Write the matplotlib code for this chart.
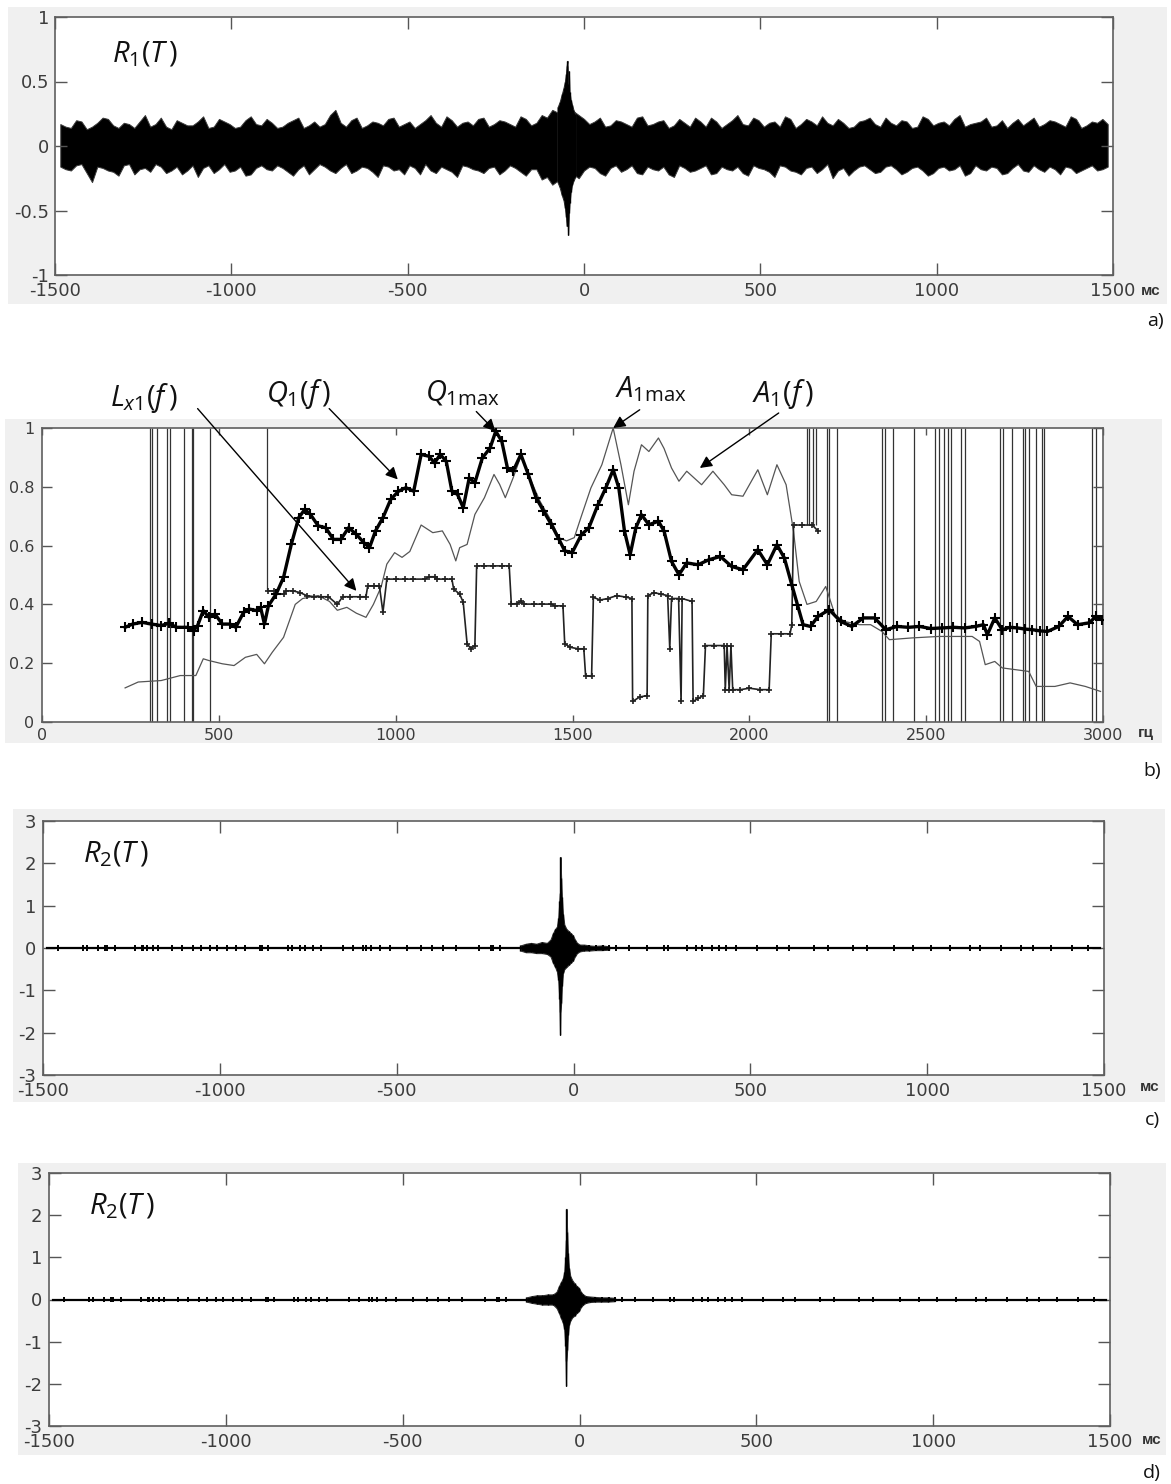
import matplotlib.pyplot as plt
import numpy as np
from matplotlib.patches import Rectangle

plt.rcParams["font.family"] = ["DejaVu Sans"]
plt.rcParams["axes.unicode_minus"] = False
plt.rcParams["mathtext.fontset"] = "custom"
plt.rcParams["mathtext.it"] = "Open Sans:italic"
plt.rcParams["mathtext.rm"] = "Open Sans"

W, H = 1171, 1484

# ---------------- panel a: R1(T), envelope of the noisy trace (hundredths) ----------------
r1_t = np.arange(-1485, 1486, 30)
r1_hi = [17, 14, 19, 15, 22, 16, 18, 14, 24, 17, 15, 20, 16, 19, 14, 21, 17, 15, 23, 16,
         18, 15, 20, 14, 19, 17, 28, 15, 22, 16, 18, 21, 15, 19, 17, 24, 15, 20, 18, 16,
         22, 17, 19, 15, 21, 18, 22, 26, 30, 24, 17, 22, 16, 19, 15, 23, 17, 20, 16, 18,
         22, 15, 19, 17, 24, 16, 20, 18, 15, 21, 17, 19, 23, 16, 18, 15, 20, 17, 22, 16,
         19, 15, 21, 18, 16, 24, 17, 19, 15, 20, 18, 16, 22, 17, 19, 15, 21, 16, 18, 17]
r1_lo = [-16, -19, -14, -28, -17, -20, -15, -22, -17, -14, -21, -16, -19, -24, -15, -18, -20, -16, -22, -15,
         -19, -17, -23, -15, -18, -16, -21, -14, -19, -17, -24, -16, -18, -15, -22, -19, -16, -20, -15, -18,
         -21, -16, -19, -17, -23, -18, -24, -27, -32, -25, -16, -21, -17, -20, -15, -22, -18, -16, -24, -17,
         -19, -15, -21, -18, -16, -23, -17, -20, -15, -19, -22, -16, -18, -25, -17, -19, -15, -21, -16, -18,
         -20, -16, -23, -17, -19, -15, -21, -18, -16, -22, -17, -19, -15, -20, -18, -16, -21, -17, -19, -16]
# values halfway between the samples above
r1_mid_hi = [15, 20, 13, 18, 21, 14, 17, 19, 15, 22, 13, 18, 16, 23, 15, 19, 14, 20, 17, 21,
             14, 18, 22, 16, 15, 24, 18, 20, 14, 19, 16, 22, 17, 14, 20, 18, 23, 15, 19, 21,
             15, 20, 17, 23, 16, 24, 28, 32, 27, 21, 19, 15, 20, 17, 22, 16, 19, 14, 21, 15,
             19, 22, 14, 20, 17, 22, 15, 19, 23, 14, 21, 16, 18, 21, 14, 19, 22, 15, 18, 20,
             14, 23, 16, 19, 21, 15, 18, 22, 16, 14, 21, 19, 15, 20, 17, 23, 14, 19, 21]
r1_mid_lo = [-18, -15, -21, -16, -19, -23, -14, -18, -20, -16, -19, -22, -15, -17, -21, -14, -19, -23, -17, -18,
             -15, -20, -18, -22, -14, -19, -17, -21, -16, -20, -15, -19, -22, -17, -14, -21, -18, -24, -16, -19,
             -17, -22, -15, -20, -18, -26, -30, -28, -22, -19, -17, -23, -15, -18, -21, -16, -19, -22, -15, -20,
             -17, -22, -16, -19, -21, -15, -18, -24, -16, -20, -17, -21, -14, -19, -23, -16, -18, -20, -15, -22,
             -17, -19, -21, -16, -18, -23, -15, -19, -17, -21, -14, -20, -18, -16, -22, -17, -19, -15, -18]
r1_burst_t = [-75, -69, -63, -58, -54, -51, -49, -47, -45, -43, -41, -38, -34, -30, -25]
r1_burst_hi = [0.3, 0.34, 0.4, 0.45, 0.5, 0.56, 0.62, 0.66, 0.48, 0.58, 0.42, 0.36, 0.32, 0.28, 0.25]
r1_burst_lo = [-0.28, -0.32, -0.38, -0.42, -0.48, -0.55, -0.62, -0.5, -0.69, -0.52, -0.44, -0.36, -0.3, -0.27, -0.24]

# ---------------- panel b: spectral curves ----------------
a1_f = [235, 272, 337, 391, 435, 456, 472, 510, 543, 575, 607, 629, 651, 683, 716, 737, 781, 813, 835, 862,
        889, 916, 937, 959, 975, 997, 1018, 1040, 1072, 1105, 1132, 1154, 1170, 1181, 1202, 1224, 1251, 1278,
        1294, 1310, 1332, 1354, 1375, 1408, 1440, 1462, 1483, 1505, 1525, 1552, 1583, 1615, 1637, 1658, 1674,
        1695, 1716, 1743, 1759, 1780, 1801, 1823, 1844, 1865, 1897, 1929, 1950, 1982, 2024, 2051, 2078, 2104,
        2125, 2141, 2163, 2189, 2216, 2242, 2269, 2311, 2343, 2375, 2396, 2460, 2535, 2630, 2651, 2667, 2694,
        2715, 2790, 2811, 2864, 2907, 2950, 2993]
a1_v = [0.116, 0.136, 0.141, 0.158, 0.158, 0.215, 0.209, 0.198, 0.192, 0.22, 0.23, 0.198, 0.237, 0.288, 0.40,
        0.42, 0.43, 0.41, 0.38, 0.39, 0.37, 0.356, 0.40, 0.46, 0.537, 0.576, 0.56, 0.58, 0.67, 0.644, 0.65, 0.604,
        0.548, 0.593, 0.604, 0.706, 0.763, 0.842, 0.808, 0.763, 0.83, 0.904, 0.842, 0.751, 0.684, 0.627, 0.616,
        0.627, 0.70, 0.796, 0.875, 1.0, 0.875, 0.739, 0.853, 0.943, 0.92, 0.966, 0.93, 0.864, 0.819, 0.853, 0.83,
        0.807, 0.853, 0.807, 0.773, 0.768, 0.858, 0.773, 0.875, 0.807, 0.648, 0.478, 0.40, 0.41, 0.461, 0.365,
        0.342, 0.331, 0.331, 0.308, 0.28, 0.286, 0.291, 0.291, 0.274, 0.195, 0.206, 0.184, 0.172, 0.121, 0.121,
        0.133, 0.121, 0.104]

q1_f = [235, 256, 283, 310, 337, 359, 380, 413, 429, 440, 456, 472, 489, 510, 532, 548, 570, 586, 608, 618,
        629, 640, 662, 683, 705, 726, 743, 759, 781, 802, 824, 845, 867, 889, 910, 926, 943, 964, 986, 1008,
        1029, 1051, 1072, 1094, 1110, 1126, 1143, 1159, 1175, 1191, 1208, 1224, 1245, 1267, 1283, 1300, 1316,
        1332, 1354, 1375, 1397, 1418, 1440, 1462, 1478, 1499, 1525, 1546, 1572, 1594, 1615, 1631, 1647, 1663,
        1679, 1695, 1716, 1743, 1759, 1780, 1801, 1823, 1855, 1886, 1918, 1950, 1982, 2024, 2051, 2078, 2099,
        2120, 2136, 2152, 2173, 2194, 2226, 2258, 2290, 2322, 2354, 2386, 2418, 2450, 2481, 2513, 2545, 2577,
        2609, 2640, 2662, 2673, 2694, 2715, 2737, 2758, 2780, 2800, 2822, 2843, 2875, 2901, 2928, 2960, 2981, 2997]
q1_v = [0.322, 0.333, 0.339, 0.333, 0.328, 0.336, 0.322, 0.322, 0.311, 0.328, 0.379, 0.356, 0.367, 0.333, 0.333,
        0.322, 0.373, 0.384, 0.379, 0.39, 0.333, 0.395, 0.435, 0.492, 0.605, 0.695, 0.723, 0.706, 0.667, 0.661,
        0.621, 0.621, 0.661, 0.638, 0.61, 0.593, 0.65, 0.695, 0.757, 0.785, 0.797, 0.785, 0.91, 0.904, 0.881,
        0.91, 0.887, 0.785, 0.774, 0.729, 0.83, 0.814, 0.898, 0.932, 0.989, 0.955, 0.864, 0.853, 0.91, 0.842,
        0.763, 0.718, 0.672, 0.621, 0.582, 0.576, 0.637, 0.66, 0.739, 0.796, 0.858, 0.796, 0.649, 0.569, 0.66,
        0.705, 0.671, 0.683, 0.649, 0.546, 0.501, 0.541, 0.535, 0.552, 0.563, 0.529, 0.518, 0.586, 0.535, 0.603,
        0.558, 0.467, 0.399, 0.331, 0.325, 0.359, 0.382, 0.342, 0.325, 0.354, 0.354, 0.314, 0.325, 0.322, 0.325,
        0.318, 0.32, 0.322, 0.32, 0.325, 0.331, 0.297, 0.354, 0.314, 0.322, 0.32, 0.316, 0.314, 0.31, 0.308,
        0.325, 0.359, 0.331, 0.337, 0.359, 0.348]

lx1_f = [640, 656, 662, 683, 689, 710, 730, 748, 770, 790, 810, 835, 850, 870, 900, 916, 921, 940, 954, 964,
         975, 1000, 1025, 1050, 1083, 1094, 1110, 1116, 1140, 1159, 1164, 1181, 1191, 1202, 1213, 1224, 1229,
         1250, 1275, 1300, 1321, 1327, 1343, 1354, 1364, 1390, 1415, 1440, 1451, 1473, 1478, 1494, 1516, 1532,
         1537, 1554, 1559, 1578, 1600, 1625, 1650, 1668, 1670, 1690, 1711, 1713, 1730, 1750, 1769, 1775, 1780,
         1800, 1807, 1810, 1838, 1841, 1855, 1870, 1876, 1900, 1929, 1932, 1937, 1943, 1948, 1953, 1975, 2000,
         2030, 2056, 2062, 2090, 2115, 2120, 2125, 2150, 2178, 2194]
lx1_v = [0.446, 0.446, 0.435, 0.435, 0.446, 0.446, 0.44, 0.43, 0.426, 0.426, 0.426, 0.40, 0.426, 0.426, 0.426,
         0.426, 0.463, 0.463, 0.463, 0.373, 0.486, 0.486, 0.486, 0.486, 0.486, 0.494, 0.494, 0.486, 0.486, 0.486,
         0.452, 0.435, 0.407, 0.266, 0.249, 0.26, 0.531, 0.531, 0.531, 0.531, 0.531, 0.401, 0.403, 0.41, 0.401,
         0.401, 0.401, 0.401, 0.395, 0.395, 0.266, 0.254, 0.249, 0.249, 0.158, 0.155, 0.424, 0.415, 0.42, 0.43,
         0.425, 0.42, 0.07, 0.085, 0.09, 0.43, 0.44, 0.435, 0.43, 0.25, 0.42, 0.42, 0.07, 0.42, 0.41, 0.07, 0.08,
         0.09, 0.26, 0.26, 0.26, 0.11, 0.26, 0.11, 0.26, 0.11, 0.11, 0.115, 0.11, 0.11, 0.30, 0.30, 0.30, 0.33,
         0.67, 0.67, 0.67, 0.65]

# frequencies where Lx1 leaves the scale (drawn as vertical strokes up to 1)
jump_f = [305, 310, 326, 354, 362, 402, 424, 427, 475, 635, 2163, 2170, 2179, 2189, 2221, 2226, 2248, 2375,
          2384, 2407, 2465, 2524, 2535, 2550, 2561, 2570, 2598, 2609, 2710, 2717, 2742, 2774, 2779, 2790, 2811,
          2827, 2832, 2970, 2979]
jump_lo = [0] * 9 + [0.446] + [0.67] * 4 + [0] * 25

# ---------------- panels c, d: R2(T) ----------------
r2_span = [-1490, 1490]
r2c_t = [-150, -135, -120, -105, -90, -75, -65, -58, -52, -47, -43, -40, -38, -37, -35, -33, -30, -26, -20,
         -14, -8, -2, 4, 10, 18, 30, 45, 60, 80, 100]
r2c_hi = [0.06, 0.1, 0.12, 0.1, 0.14, 0.12, 0.2, 0.35, 0.45, 0.5, 0.7, 1.1, 1.3, 2.15, 1.65, 1.2, 0.8, 0.55,
          0.45, 0.4, 0.35, 0.3, 0.2, 0.12, 0.08, 0.08, 0.06, 0.05, 0.06, 0.04]
r2c_lo = [-0.06, -0.1, -0.1, -0.12, -0.12, -0.14, -0.2, -0.35, -0.45, -0.55, -0.75, -1.2, -2.05, -1.5, -1.3,
          -0.9, -0.6, -0.5, -0.45, -0.4, -0.35, -0.3, -0.2, -0.12, -0.08, -0.06, -0.06, -0.05, -0.05, -0.04]
r2d_t = [-150, -135, -120, -105, -90, -75, -65, -58, -52, -47, -43, -40, -38, -37, -35, -33, -30, -26, -20,
         -14, -8, -2, 4, 10, 18, 30, 45, 60, 80, 100]
r2d_hi = [0.05, 0.08, 0.1, 0.1, 0.12, 0.12, 0.18, 0.32, 0.42, 0.5, 0.65, 1.0, 1.4, 2.15, 1.6, 1.1, 0.75, 0.55,
          0.45, 0.38, 0.32, 0.28, 0.18, 0.12, 0.08, 0.07, 0.06, 0.05, 0.05, 0.04]
r2d_lo = [-0.05, -0.08, -0.1, -0.12, -0.12, -0.12, -0.2, -0.32, -0.45, -0.55, -0.7, -1.1, -2.05, -1.45, -1.2,
          -0.85, -0.6, -0.5, -0.42, -0.38, -0.32, -0.28, -0.18, -0.12, -0.08, -0.06, -0.05, -0.05, -0.05, -0.04]
r2_blip_t = [-1457, -1386, -1377, -1344, -1325, -1320, -1296, -1240, -1221, -1216, -1207, -1188, -1174, -1136,
             -1108, -1075, -1052, -1028, -1009, -981, -953, -929, -887, -882, -863, -807, -797, -774, -760, -736,
             -713, -652, -624, -595, -586, -572, -548, -520, -470, -430, -400, -370, -331, -266, -233, -229, -209,
             45, 64, 82, 101, 120, 158, 209, 257, 266, 322, 347, 364, 393, 412, 432, 460, 520, 575, 610, 680,
             720, 790, 830, 905, 960, 1010, 1065, 1120, 1150, 1210, 1265, 1300, 1350, 1410, 1455]
r2_blip_amp = 0.07

fig = plt.figure(figsize=(W / 100, H / 100), dpi=100)


def rect(l, t, r, b):
    return [l / W, 1 - b / H, (r - l) / W, (b - t) / H]


def backdrop(l, t, r, b):
    x, y, w, h = rect(l, t, r, b)
    fig.patches.append(Rectangle((x, y), w, h, transform=fig.transFigure,
                                 facecolor="#f0f0f0", edgecolor="none", zorder=-10))


def matlab_axes(box, fs, xpad, ypad, xlen, ylen):
    ax = fig.add_axes(rect(*box))
    ax.tick_params(direction="in", top=True, right=True, labelsize=fs,
                   labelcolor="#3c3c3c", color="#555555", width=1.0)
    ax.tick_params(axis="x", pad=xpad, length=xlen)
    ax.tick_params(axis="y", pad=ypad, length=ylen)
    for s in ax.spines.values():
        s.set_color("#5f5f5f")
        s.set_linewidth(1.2)
    return ax


def label(x, y, s, **kw):
    fig.text(x / W, 1 - y / H, s, ha="center", va="center", **kw)


def unit(x, y, s):
    label(x, y, s, fontsize=11, fontweight="bold", color="#333333", family="Liberation Sans")


def tag(x, y, s):
    label(x, y, s, fontsize=14, family="Open Sans", color="#111111")


time_ticks = [-1500, -1000, -500, 0, 500, 1000, 1500]
time_labels = ["-1500", "-1000", "-500", "0", "500", "1000", "1500"]

# ---- a ----
backdrop(8, 7, 1167, 304)
ax = matlab_axes((55, 17, 1113, 275), 13, 5.0, 4.0, 8.5, 8.5)
band_t = np.empty(2 * len(r1_t) - 1)
band_t[0::2] = r1_t
band_t[1::2] = r1_t[:-1] + 15
band_hi = np.empty_like(band_t)
band_hi[0::2] = r1_hi
band_hi[1::2] = r1_mid_hi
band_lo = np.empty_like(band_t)
band_lo[0::2] = r1_lo
band_lo[1::2] = r1_mid_lo
ax.fill_between(band_t, band_lo / 100, band_hi / 100, facecolor="black", edgecolor="#3a3a3a", lw=0.7)
ax.fill_between(r1_burst_t, r1_burst_lo, r1_burst_hi, facecolor="black", edgecolor="#303030", lw=0.8)
ax.vlines(r1_burst_t, r1_burst_lo, r1_burst_hi, color="black", lw=1.0)
ax.set_xlim(-1500, 1500)
ax.set_ylim(-1, 1)
ax.set_xticks(time_ticks, time_labels)
ax.set_yticks([-1, -0.5, 0, 0.5, 1], ["-1", "-0.5", "0", "0.5", "1"])
ax.text(-1339, 0.65, r"$R_{\mathrm{1}}(T\,)$", fontsize=21, ha="left", va="baseline", color="#111111")
unit(1151, 291, "мс")
tag(1155, 321, "a)")

# ---- b ----
backdrop(5, 419, 1162, 743)
ax = matlab_axes((42, 428, 1103, 722), 11.5, 4.0, 5.5, 5.0, 7.0)
ax.vlines(jump_f, jump_lo, 1, color="#333333", lw=0.9, zorder=1)
ax.plot(a1_f, a1_v, color="#555555", lw=0.9, zorder=2)
ax.plot(lx1_f, lx1_v, color="#222222", lw=1.2, marker="+", ms=5, mew=1.2, zorder=3)
ax.plot(q1_f, q1_v, color="black", lw=2.4, marker="+", ms=6.5, mew=1.5, zorder=4)
ax.set_xlim(0, 3000)
ax.set_ylim(0, 1)
ax.set_xticks([0, 500, 1000, 1500, 2000, 2500, 3000], ["0", "500", "1000", "1500", "2000", "2500", "3000"])
ax.set_yticks([0, 0.2, 0.4, 0.6, 0.8, 1], ["0", "0.2", "0.4", "0.6", "0.8", "1"])

arrow = dict(arrowstyle="-|>", color="black", lw=1.0, mutation_scale=18, shrinkA=0, shrinkB=0)
notes = [
    (r"$L_{x\mathrm{1}}(f\,)$", 192, 1.075, (440, 1.066), (889, 0.446)),
    (r"$Q_{\mathrm{1}}(f\,)$", 633, 1.09, (812, 1.066), (1006, 0.825)),
    (r"$Q_{\mathrm{1max}}$", 1083, 1.09, (1228, 1.056), (1282, 0.989)),
    (r"$A_{\mathrm{1max}}$", 1620, 1.105, (1690, 1.062), (1615, 1.0)),
    (r"$A_{\mathrm{1}}(f\,)$", 2007, 1.09, (2083, 1.051), (1860, 0.864)),
]
for txt, tx, ty, tail, head in notes:
    ax.text(tx, ty, txt, fontsize=21, ha="left", va="baseline", color="#111111", clip_on=False)
    ax.annotate("", xy=head, xytext=tail, arrowprops=arrow, annotation_clip=False)
unit(1146, 733, "гц")
tag(1152, 771, "b)")

# ---- c, d ----
panels = [
    ((13, 809, 1165, 1102), (43, 821, 1104, 1075), r2c_t, r2c_hi, r2c_lo, (1150, 1087), (1152, 1120), "c)"),
    ((18, 1163, 1166, 1455), (49, 1173, 1110, 1426), r2d_t, r2d_hi, r2d_lo, (1152, 1440), (1152, 1473), "d)"),
]
for bg, box, bt, bhi, blo, upos, lpos, name in panels:
    backdrop(*bg)
    ax = matlab_axes(box, 13, 5.0, 5.0, 8.5, 8.5)
    ax.plot(r2_span, [0, 0], color="black", lw=1.6)
    ax.vlines(r2_blip_t, -r2_blip_amp, r2_blip_amp, color="black", lw=1.4)
    ax.fill_between(bt, blo, bhi, facecolor="black", edgecolor="#303030", lw=0.8)
    ax.vlines(bt, blo, bhi, color="black", lw=1.0)
    ax.set_xlim(-1500, 1500)
    ax.set_ylim(-3, 3)
    ax.set_xticks(time_ticks, time_labels)
    ax.set_yticks([-3, -2, -1, 0, 1, 2, 3], ["-3", "-2", "-1", "0", "1", "2", "3"])
    ax.text(-1387, 2.03, r"$R_{\mathrm{2}}(T\,)$", fontsize=21, ha="left", va="baseline", color="#111111")
    unit(*upos, "мс")
    tag(*lpos, name)

fig.savefig("out.png", dpi=100, facecolor="white")
